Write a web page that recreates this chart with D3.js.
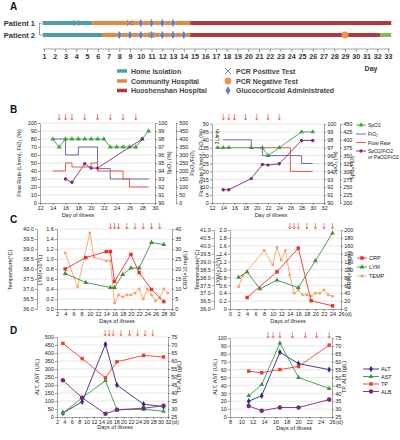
<!DOCTYPE html>
<html><head><meta charset="utf-8">
<script src="https://cdn.jsdelivr.net/npm/d3@7"></script>
<style>body{margin:0;background:#fff} text{font-family:"Liberation Sans",Arial,sans-serif}</style>
</head><body><script>
// ---------------- DATA ----------------
// Panel A
const dayTicks = d3.range(1, 34);
const patients = ["Patient 1", "Patient 2"];
const phaseNames = ["Home Isolation", "Community Hospital", "Huoshenshan Hospital", "Discharged"];
const p1PhaseStart = [0.88, 5.5, 14.6];
const p1PhaseEnd = [5.5, 14.6, 33.3];
const p2PhaseStart = [0.88, 6.4, 14.6, 32.3];
const p2PhaseEnd = [6.4, 14.6, 32.3, 33.3];
const p1PcrPos = [4, 9];
const p2PcrPos = [11];
const p1PcrNeg = [];
const p2PcrNeg = [29];
const p1Gluco = [10, 11, 12, 13];
const p2Gluco = [8, 9, 10, 11, 12, 13, 14];
const legendA = ["Home Isolation", "Community Hospital", "Huoshenshan Hospital", "PCR Positive Test", "PCR Negative Test", "Glucocorticoid Administrated"];

// Panel B left (patient 1)
const bLSpo2Days = [14, 15, 16, 17, 18, 19, 20, 21, 22, 23, 24, 25, 26, 27, 28, 29];
const bLSpo2 = [98, 97, 98, 98, 98, 98, 98, 98, 98, 97, 97, 97, 97, 97, 98, 99];
const bLFio2Days = [14, 16, 18, 21, 23, 29];
const bLFio2 = [80, 60, 70, 43, 30, 30];
const bLFlowDays = [14, 16, 17, 20, 21, 25, 26, 29];
const bLFlow = [40, 50, 45, 50, 40, 30, 20, 20];
const bLRatioDays = [16, 17, 19, 20, 21, 28];
const bLRatio = [150, 130, 245, 218, 218, 400];
const bLArrows = [15, 16, 17, 19, 21, 23, 25, 27];

// Panel B right (patient 2)
const bRSpo2Days = [13, 14, 15, 19, 21, 22, 24, 28, 30];
const bRSpo2 = [97, 97, 97, 97, 97, 96, 97, 99, 99];
const bRFio2Days = [14, 19, 21, 28, 30];
const bRFio2 = [40, 35, 30, 25, 25];
const bRFlowDays = [21, 26, 30];
const bRFlow = [35, 20, 20];
const bRRatioDays = [14, 15, 19, 21, 22, 24, 28, 30];
const bRRatio = [242, 242, 277, 322, 320, 324, 398, 398];
const bRArrows = [14, 15, 16, 18, 20, 22, 24];
const legendB = ["SpO2", "FiO₂", "Flow Rate", "SpO2/FiO2", "or PaO2/FiO2"];

// Panel C left
const cLTempDays = [4, 7, 10, 11, 14, 15, 16, 17, 18, 19, 20, 21, 22, 23, 24, 25, 26, 27, 28, 29];
const cLTemp = [38.8, 37.1, 39.8, 38.6, 38.4, 38.4, 36.3, 36.7, 36.6, 36.7, 36.7, 36.8, 37.0, 36.5, 37.0, 36.7, 36.4, 36.55, 37.0, 36.8];
const cLLymDays = [4, 9, 15, 16, 18, 20, 22, 25, 28];
const cLLym = [0.71, 0.53, 0.43, 0.43, 0.69, 0.82, 0.82, 1.33, 1.29];
const cLCrpDays = [4, 9, 14, 15, 16, 20, 22, 25, 28];
const cLCrp = [20, 25.7, 28.7, 28.7, 13.7, 27.3, 18.2, 9.8, 3.7];
const cLArrows = [15, 16, 17, 19, 21, 23, 25, 27];

// Panel C right
const cRTempDays = [2, 3, 8, 10, 11, 12, 13, 14, 15, 16, 17, 18, 19, 20, 21, 22, 23, 24];
const cRTemp = [37.4, 38.1, 39.7, 38.8, 39.9, 39.1, 39.7, 38.15, 37.0, 37.2, 36.9, 36.9, 36.8, 37.0, 37.0, 37.2, 36.9, 36.8];
const cRLymDays = [2, 4, 7, 11, 16, 20, 24];
const cRLym = [0.8, 0.94, 0.51, 0.73, 0.54, 1.22, 1.92];
const cRCrpDays = [4, 11, 16, 19, 24];
const cRCrp = [29, 94, 154, 21, 8];
const cRArrows = [14, 15, 16, 18, 20, 22, 24];
const legendC = ["CRP", "LYM", "TEMP"];

// Panel D left
const dLDays = [3.6, 8.8, 15.1, 18.2, 25.4, 30.8];
const dLAlt = [25, 95, 455, 200, 80, 65];
const dLAst = [25, 120, 227, 45, 48, 36];
const dLTp = [71, 61.5, 49.5, 59.5, 63.5, 62.5];
const dLAlb = [48, 37, 27, 29.5, 30.5, 32];
const dLArrows = [15, 16.1, 17.2, 19.3, 21.6, 23.8, 25.8, 27.9];

// Panel D right
const dRDays = [11.3, 13.6, 16.8, 20.1, 25.5];
const dRAlt = [20, 27, 82, 67.5, 60];
const dRAst = [27, 41, 93.5, 50, 36];
const dRTp = [54, 53, 55, 57, 70.5];
const dRAlb = [32, 29, 31, 31, 36];
const dRArrows = [14.7, 15.6, 16.8, 19, 21.3, 23.3, 25.5];
const legendD = ["ALT", "AST", "TP", "ALB"];

// ---------------- DRAW ----------------
const FONT = "Liberation Sans, Arial, sans-serif";
const C = {
  home: "#4b9fa6", comm: "#e8873f", huo: "#ad3a3c", dis: "#8db45a",
  xm: "#8b80ad", neg: "#f0924a", dia: "#5b80c4",
  spo2: "#3f9f3f", fio2: "#5a5ab4", flow: "#e8483a", ratio: "#7b2d7b",
  crp: "#e8322a", lym: "#3d8f3d", temp: "#f4a56a",
  alt: "#2b2b8c", ast: "#3a9a3a", tp: "#f0402a", alb: "#7a2878",
  arrow: "#e8524a", grid: "#d6d6d6", axis: "#555"
};
const svg = d3.select("body").append("svg").attr("width", 400).attr("height", 440)
  .style("background", "#fff").attr("font-family", FONT);

function styleAxis(a, fs) {
  a.selectAll("text").attr("font-size", fs || 5.5).attr("fill", "#222").attr("font-family", FONT);
  a.selectAll("line,path").attr("stroke", C.axis).attr("stroke-width", 0.6);
  a.select(".domain").attr("stroke", "#666");
}
function vAxis(scale, x, side, ticks, fmt) {
  const ax = (side === "left" ? d3.axisLeft(scale) : d3.axisRight(scale))
    .tickValues(ticks).tickFormat(fmt).tickSizeInner(2).tickSizeOuter(0).tickPadding(1.2);
  const a = svg.append("g").attr("transform", `translate(${x},0)`).call(ax);
  styleAxis(a);
}
function hAxis(scale, y, ticks, fmt) {
  const ax = d3.axisBottom(scale).tickValues(ticks).tickFormat(fmt)
    .tickSizeInner(2).tickSizeOuter(0).tickPadding(1.5);
  const a = svg.append("g").attr("transform", `translate(0,${y})`).call(ax);
  styleAxis(a);
}
function grid(yScale, ticks, x0, x1) {
  svg.append("g").selectAll("line").data(ticks).join("line")
    .attr("x1", x0).attr("x2", x1).attr("y1", d => yScale(d)).attr("y2", d => yScale(d))
    .attr("stroke", C.grid).attr("stroke-width", 0.6);
}
function vTitle(txt, x, y, fs) {
  svg.append("text").attr("transform", `translate(${x},${y}) rotate(-90)`)
    .attr("text-anchor", "middle").attr("font-size", fs || 5.5).attr("fill", "#222").text(txt);
}
function hTitle(txt, x, y) {
  svg.append("text").attr("x", x).attr("y", y).attr("text-anchor", "middle")
    .attr("font-size", 5.5).attr("fill", "#222").text(txt);
}
function series(xs, ys, xS, yS, color, sym, size, curve, w) {
  const pts = xs.map((d, i) => [xS(d), yS(ys[i])]);
  svg.append("path").attr("d", d3.line().curve(curve || d3.curveLinear)(pts))
    .attr("fill", "none").attr("stroke", color).attr("stroke-width", w || 0.9);
  if (sym) {
    svg.append("g").selectAll("path").data(pts).join("path")
      .attr("transform", d => `translate(${d[0]},${d[1]})`)
      .attr("d", d3.symbol().type(sym).size(size || 9)).attr("fill", color);
  }
}
function arrows(days, xS, y0, y1) {
  const g = svg.append("g").attr("stroke", C.arrow).attr("stroke-width", 0.7).attr("fill", "none");
  days.forEach(d => {
    const x = xS(d);
    g.append("line").attr("x1", x).attr("x2", x).attr("y1", y0).attr("y2", y1);
    g.append("path").attr("d", `M${x - 1.4},${y1 - 2}L${x},${y1}L${x + 1.4},${y1 - 2}`);
  });
}
function letter(t, x, y) {
  svg.append("text").attr("x", x).attr("y", y).attr("font-size", 10).attr("font-weight", "bold")
    .attr("fill", "#111").text(t);
}
function legendRow(x, y, color, sym, label, len, fs, size) {
  svg.append("line").attr("x1", x).attr("x2", x + len).attr("y1", y).attr("y2", y)
    .attr("stroke", color).attr("stroke-width", 0.9);
  if (sym) svg.append("path").attr("transform", `translate(${x + len / 2},${y})`)
    .attr("d", d3.symbol().type(sym).size(size || 9)).attr("fill", color);
  if (label) svg.append("text").attr("x", x + len + 2).attr("y", y + 2).attr("font-size", fs || 5.5)
    .attr("fill", "#222").text(label);
}

letter("A", 10, 10); letter("B", 10, 113); letter("C", 10, 223); letter("D", 10, 334);

// ---------- Panel A ----------
const xA = d3.scaleLinear().domain([1, 33]).range([44, 388]);
const rowA = d3.scalePoint().domain(patients).range([23, 35]);
const phaseColor = d3.scaleOrdinal().domain(phaseNames).range([C.home, C.comm, C.huo, C.dis]);
const patData = [
  { p: patients[0], s: p1PhaseStart, e: p1PhaseEnd, pos: p1PcrPos, neg: p1PcrNeg, glu: p1Gluco },
  { p: patients[1], s: p2PhaseStart, e: p2PhaseEnd, pos: p2PcrPos, neg: p2PcrNeg, glu: p2Gluco }
];
patData.forEach(pd => {
  const y = rowA(pd.p);
  pd.s.forEach((s, i) => {
    svg.append("line").attr("x1", xA(s)).attr("x2", xA(pd.e[i])).attr("y1", y).attr("y2", y)
      .attr("stroke", phaseColor(phaseNames[i])).attr("stroke-width", 4);
  });
  pd.glu.forEach(d => svg.append("path").attr("transform", `translate(${xA(d)},${y})`)
    .attr("d", d3.symbol().type(d3.symbolDiamond).size(22)).attr("fill", C.dia).attr("stroke", "#fff").attr("stroke-width", 0.3));
  pd.neg.forEach(d => svg.append("circle").attr("cx", xA(d)).attr("cy", y).attr("r", 3.4).attr("fill", C.neg));
  pd.pos.forEach(d => svg.append("path").attr("transform", `translate(${xA(d)},${y})`)
    .attr("d", "M-3,-3L3,3M-3,3L3,-3").attr("stroke", C.xm).attr("stroke-width", 1).attr("fill", "none"));
  svg.append("text").attr("x", 35).attr("y", y + 2.7).attr("text-anchor", "end")
    .attr("font-size", 7.5).attr("font-weight", "bold").attr("fill", "#333").text(pd.p);
});
svg.append("path").attr("d", `M42,${rowA(patients[0])}H39.5V${rowA(patients[1])}H42`)
  .attr("fill", "none").attr("stroke", "#777").attr("stroke-width", 0.7);
{
  const ax = d3.axisBottom(xA).tickValues(dayTicks).tickFormat(d3.format("d"))
    .tickSizeInner(3).tickSizeOuter(0).tickPadding(2);
  const a = svg.append("g").attr("transform", "translate(0,49)").call(ax);
  styleAxis(a, 7.2);
  a.select(".domain").attr("d", `M${xA(0.9)},0H${xA(33.2)}`);
  a.selectAll("text").attr("font-weight", "bold").attr("fill", "#333");
  svg.append("text").attr("x", 371).attr("y", 70.5).attr("text-anchor", "middle").attr("font-size", 7)
    .attr("font-weight", "bold").attr("fill", "#333").text("Day");
}
{
  const ly = [71, 81, 90.5];
  [C.home, C.comm, C.huo].forEach((c, i) => {
    svg.append("line").attr("x1", 117).attr("x2", 127).attr("y1", ly[i]).attr("y2", ly[i])
      .attr("stroke", c).attr("stroke-width", 3.5);
    svg.append("text").attr("x", 131).attr("y", ly[i] + 2.5).attr("font-size", 7)
      .attr("font-weight", "bold").attr("fill", "#444").text(legendA[i]);
  });
  svg.append("path").attr("transform", `translate(228,${ly[0]})`).attr("d", "M-3,-3L3,3M-3,3L3,-3")
    .attr("stroke", C.xm).attr("stroke-width", 1).attr("fill", "none");
  svg.append("circle").attr("cx", 228).attr("cy", ly[1]).attr("r", 3.4).attr("fill", C.neg);
  svg.append("path").attr("transform", `translate(228,${ly[2]})`)
    .attr("d", d3.symbol().type(d3.symbolDiamond).size(22)).attr("fill", C.dia);
  [3, 4, 5].forEach((k, i) => svg.append("text").attr("x", 236).attr("y", ly[i] + 2.5).attr("font-size", 7)
    .attr("font-weight", "bold").attr("fill", "#444").text(legendA[k]));
}

// ---------- Panel B left ----------
{
  const x = d3.scaleLinear().domain([12, 30]).range([40, 155]);
  const y = d3.scaleLinear().domain([0, 100]).range([203, 123]);
  const y2 = d3.scaleLinear().domain([90, 100]).range([203, 123]);
  const y3 = d3.scaleLinear().domain([0, 500]).range([203, 123]);
  grid(y, d3.range(10, 101, 10), 40, 155);
  series(bLFio2Days, bLFio2, x, y, C.fio2, null, 0, d3.curveStepAfter);
  series(bLFlowDays, bLFlow, x, y, C.flow, null, 0, d3.curveStepAfter);
  series(bLSpo2Days, bLSpo2, x, y2, C.spo2, d3.symbolTriangle, 10);
  series(bLRatioDays, bLRatio, x, y3, C.ratio, d3.symbolCircle, 9);
  vAxis(y, 40, "left", d3.range(0, 101, 10), d3.format("d"));
  vAxis(y2, 155, "right", d3.range(90, 101, 1), d3.format("d"));
  vAxis(y3, 176, "right", d3.range(0, 501, 50), d3.format("d"));
  hAxis(x, 203, d3.range(12, 31, 2), d3.format("d"));
  vTitle("Flow Rate (L/min), FiO₂ (%)", 21, 163);
  vTitle("SpO₂ (%)", 171, 163);
  vTitle("PaO₂/FiO₂", 194, 163);
  hTitle("Day of illness", 78, 217);
  arrows(bLArrows, x, 114, 120);
}
// ---------- Panel B right ----------
{
  const x = d3.scaleLinear().domain([12, 32]).range([212, 324]);
  const y = d3.scaleLinear().domain([0, 50]).range([203, 124]);
  const y2 = d3.scaleLinear().domain([90, 100]).range([203, 124]);
  const y3 = d3.scaleLinear().domain([200, 450]).range([203, 124]);
  grid(y, d3.range(5, 51, 5), 212, 324);
  series(bRFio2Days, bRFio2, x, y, C.fio2, null, 0, d3.curveStepAfter);
  series(bRFlowDays, bRFlow, x, y, C.flow, null, 0, d3.curveStepAfter);
  series(bRSpo2Days, bRSpo2, x, y2, C.spo2, d3.symbolTriangle, 10);
  series(bRRatioDays, bRRatio, x, y3, C.ratio, d3.symbolCircle, 9);
  vAxis(y, 212, "left", d3.range(0, 51, 5), d3.format("d"));
  vAxis(y2, 324, "right", d3.range(90, 101, 1), d3.format("d"));
  vAxis(y3, 340, "right", d3.range(200, 451, 25), d3.format("d"));
  hAxis(x, 203, d3.range(12, 33, 2), d3.format("d"));
  vTitle("Flow Rate (L/min), FiO₂ (%)", 203, 163);
  vTitle("SpO₂ (%)", 337, 163);
  vTitle("SpO₂/FiO₂", 354, 168, 5);
  hTitle("Day of illness", 271, 217);
  svg.append("text").attr("transform", `translate(${x(13.2)},${y(42)}) rotate(-90)`)
    .attr("text-anchor", "middle").attr("font-size", 5).attr("fill", "#222").text("3L/min");
  arrows(bRArrows, x, 114, 120);
  legendRow(356, 125, C.spo2, d3.symbolTriangle, legendB[0], 10, 5, 10);
  legendRow(356, 134, C.fio2, null, legendB[1], 10, 5);
  legendRow(356, 142.5, C.flow, null, legendB[2], 10, 5);
  legendRow(356, 151, C.ratio, d3.symbolCircle, legendB[3], 10, 5, 9);
  svg.append("text").attr("x", 368).attr("y", 158.5).attr("font-size", 5).attr("fill", "#222").text(legendB[4]);
}
// ---------- Panel C left ----------
{
  const x = d3.scaleLinear().domain([2, 30]).range([57, 172]);
  const yT = d3.scaleLinear().domain([36, 40]).range([309, 229]);
  const yL = d3.scaleLinear().domain([0, 1.6]).range([309, 229]);
  const yC = d3.scaleLinear().domain([0, 40]).range([309, 229]);
  grid(yT, d3.range(36.5, 40.01, 0.5), 57, 172);
  series(cLTempDays, cLTemp, x, yT, C.temp, d3.symbolCircle, 7);
  series(cLLymDays, cLLym, x, yL, C.lym, d3.symbolTriangle, 10);
  series(cLCrpDays, cLCrp, x, yC, C.crp, d3.symbolSquare, 12);
  vAxis(yT, 37, "left", d3.range(36, 40.01, 0.5), d3.format(".1f"));
  vAxis(yL, 57, "left", d3.range(0, 1.61, 0.2), d3.format(".1f"));
  vAxis(yC, 172, "right", d3.range(0, 41, 5), d3.format("d"));
  hAxis(x, 309, d3.range(2, 31, 2), d3.format("d"));
  vTitle("Temperature(°C)", 12, 270);
  vTitle("LYM(×10⁹/L)", 42, 270);
  vTitle("CRP(×10 mg/L)", 187, 270);
  hTitle("Days of illness", 117, 323);
  arrows(cLArrows, x, 223, 229);
}
// ---------- Panel C right ----------
{
  const x = d3.scaleLinear().domain([0, 26]).range([230, 341]);
  const yT = d3.scaleLinear().domain([36, 41]).range([309, 230]);
  const yL = d3.scaleLinear().domain([0, 2]).range([309, 230]);
  const yC = d3.scaleLinear().domain([0, 200]).range([309, 230]);
  grid(yT, d3.range(36.5, 41.01, 0.5), 230, 341);
  series(cRTempDays, cRTemp, x, yT, C.temp, d3.symbolCircle, 7);
  series(cRLymDays, cRLym, x, yL, C.lym, d3.symbolTriangle, 10);
  series(cRCrpDays, cRCrp, x, yC, C.crp, d3.symbolSquare, 12);
  vAxis(yT, 214, "left", d3.range(36, 41.01, 0.5), d3.format(".1f"));
  vAxis(yL, 230, "left", d3.range(0, 2.01, 0.2), d => d === 0 ? "0" : d3.format(".1f")(d));
  vAxis(yC, 341, "right", d3.range(0, 201, 20), d3.format("d"));
  hAxis(x, 309, d3.range(0, 27, 2), d3.format("d"));
  svg.append("text").attr("x", x(26) + 4).attr("y", 316).attr("font-size", 5.5).attr("fill", "#222").text("(d)");
  vTitle("Temperature(°C)", 199, 270);
  vTitle("LYM(×10⁹/L)", 220, 270);
  vTitle("CRP(×10 mg/L)", 351, 270);
  hTitle("Days of illness", 288, 323);
  arrows(cRArrows, x, 223, 229);
  legendRow(357, 258, C.crp, d3.symbolSquare, legendC[0], 10, 5.5, 12);
  legendRow(357, 267, C.lym, d3.symbolTriangle, legendC[1], 10, 5.5, 10);
  legendRow(357, 276, C.temp, d3.symbolCircle, legendC[2], 10, 5.5, 9);
}
// ---------- Panel D left ----------
{
  const x = d3.scaleLinear().domain([2, 32]).range([57, 168]);
  const y = d3.scaleLinear().domain([0, 500]).range([417, 337]);
  const y2 = d3.scaleLinear().domain([25, 75]).range([417, 337]);
  grid(y, d3.range(50, 501, 50), 57, 168);
  series(dLDays, dLAlt, x, y, C.alt, d3.symbolDiamond, 12);
  series(dLDays, dLAst, x, y, C.ast, d3.symbolTriangle, 10);
  series(dLDays, dLTp, x, y2, C.tp, d3.symbolSquare, 12);
  series(dLDays, dLAlb, x, y2, C.alb, d3.symbolCircle, 16);
  vAxis(y, 57, "left", d3.range(0, 501, 50), d3.format("d"));
  vAxis(y2, 168, "right", d3.range(25, 76, 5), d3.format("d"));
  hAxis(x, 417, d3.range(2, 33, 2), d3.format("d"));
  svg.append("text").attr("x", x(32) + 4).attr("y", 424).attr("font-size", 5.5).attr("fill", "#222").text("(d)");
  vTitle("ALT, AST (U/L)", 39, 377);
  vTitle("TP, ALB (g/L)", 181, 377);
  hTitle("Days of illness", 115, 429);
  arrows(dLArrows, x, 330, 336);
}
// ---------- Panel D right ----------
{
  const x = d3.scaleLinear().domain([8, 26]).range([230, 332]);
  const y = d3.scaleLinear().domain([0, 100]).range([417, 338]);
  const y2 = d3.scaleLinear().domain([25, 75]).range([417, 338]);
  grid(y, d3.range(10, 101, 10), 230, 332);
  series(dRDays, dRAlt, x, y, C.alt, d3.symbolDiamond, 12);
  series(dRDays, dRAst, x, y, C.ast, d3.symbolTriangle, 10);
  series(dRDays, dRTp, x, y2, C.tp, d3.symbolSquare, 12);
  series(dRDays, dRAlb, x, y2, C.alb, d3.symbolCircle, 16);
  vAxis(y, 230, "left", d3.range(0, 101, 10), d3.format("d"));
  vAxis(y2, 332, "right", d3.range(25, 76, 5), d3.format("d"));
  hAxis(x, 417, d3.range(8, 27, 2), d3.format("d"));
  svg.append("text").attr("x", x(26) + 4).attr("y", 424).attr("font-size", 5.5).attr("fill", "#222").text("(d)");
  vTitle("ALT, AST (U/L)", 217, 377);
  vTitle("TP, ALB (g/L)", 346, 377);
  hTitle("Days of illness", 294, 430);
  arrows(dRArrows, x, 332, 338);
  legendRow(363, 369, C.alt, d3.symbolDiamond, legendD[0], 16, 5.5, 12);
  legendRow(363, 376.5, C.ast, d3.symbolTriangle, legendD[1], 16, 5.5, 10);
  legendRow(363, 384, C.tp, d3.symbolSquare, legendD[2], 16, 5.5, 12);
  legendRow(363, 391.5, C.alb, d3.symbolCircle, legendD[3], 16, 5.5, 16);
}
</script></body></html>
